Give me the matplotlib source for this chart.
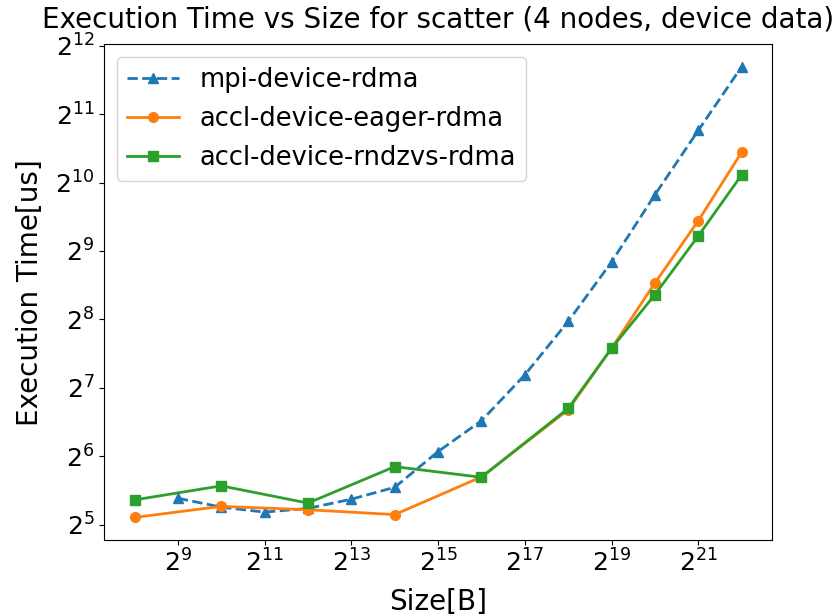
import matplotlib

matplotlib.use("Agg")
import matplotlib.pyplot as plt

# message sizes in bytes
mpi_sizes = [2**9, 2**10, 2**11, 2**12, 2**13, 2**14, 2**15, 2**16,
             2**17, 2**18, 2**19, 2**20, 2**21, 2**22]
accl_sizes = [2**8, 2**10, 2**12, 2**14, 2**16, 2**18, 2**19, 2**20,
              2**21, 2**22]

# execution times in us
mpi_device_rdma = [41.9, 38.3, 36.4, 37.8, 41.5, 46.8, 67.2, 91.8,
                   146, 251, 458, 904, 1734, 3304]
accl_eager_rdma = [34.5, 38.6, 37.3, 35.5, 52.0, 102.5, 191, 370, 695, 1390]
accl_rndzvs_rdma = [41.2, 47.5, 39.9, 57.7, 51.8, 104, 191, 329, 596, 1105]

fig = plt.figure(figsize=(8.4, 6.15), dpi=100)
ax = fig.add_axes([0.124, 0.122, 0.795, 0.806])

ax.plot(mpi_sizes, mpi_device_rdma, "^--", color="tab:blue",
        label="mpi-device-rdma", markersize=7, linewidth=2)
ax.plot(accl_sizes, accl_eager_rdma, "o-", color="tab:orange",
        label="accl-device-eager-rdma", markersize=7, linewidth=2)
ax.plot(accl_sizes, accl_rndzvs_rdma, "s-", color="tab:green",
        label="accl-device-rndzvs-rdma", markersize=7, linewidth=2)

ax.set_xscale("log", base=2)
ax.set_yscale("log", base=2)
ax.tick_params(labelsize=18)
ax.set_xlabel("Size[B]", fontsize=20, labelpad=8)
ax.set_ylabel("Execution Time[us]", fontsize=20, labelpad=8)
ax.set_title("Execution Time vs Size for scatter (4 nodes, device data)",
             fontsize=20, pad=12)
ax.legend(loc="upper left", fontsize=18.5)

fig.savefig("out.png", dpi=100)
